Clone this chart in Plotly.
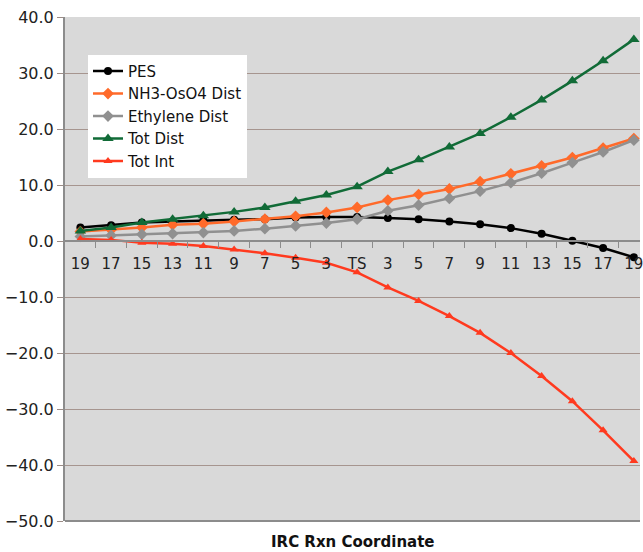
import plotly.graph_objects as go

categories = ["19", "17", "15", "13", "11", "9", "7", "5", "3", "TS",
              "3", "5", "7", "9", "11", "13", "15", "17", "19"]
pes = [2.4, 2.8, 3.3, 3.5, 3.7, 3.8, 3.9, 4.2, 4.3, 4.3,
       4.1, 3.9, 3.5, 3.0, 2.3, 1.3, 0.05, -1.25, -2.9]
nh3_oso4 = [1.7, 2.0, 2.4, 2.9, 3.1, 3.5, 3.9, 4.4, 5.1, 6.0,
            7.3, 8.3, 9.3, 10.6, 12.0, 13.4, 14.9, 16.6, 18.3]
ethylene = [0.8, 1.0, 1.2, 1.3, 1.5, 1.8, 2.2, 2.7, 3.2, 3.9,
            5.4, 6.4, 7.6, 8.9, 10.4, 12.1, 14.0, 15.9, 18.0]
tot_dist = [1.8, 2.4, 3.3, 3.9, 4.5, 5.2, 6.0, 7.1, 8.2, 9.7,
            12.4, 14.5, 16.8, 19.2, 22.1, 25.2, 28.6, 32.2, 36.0]
tot_int = [0.35, 0.2, -0.3, -0.5, -0.9, -1.5, -2.2, -3.0, -3.9, -5.6,
           -8.3, -10.7, -13.4, -16.4, -20.0, -24.1, -28.6, -33.8, -39.3]

x = list(range(len(categories)))

series = [
    ("PES", pes, "#000000", "circle", 8),
    ("NH3-OsO4 Dist", nh3_oso4, "#ff6a2a", "diamond", 9),
    ("Ethylene Dist", ethylene, "#909090", "diamond", 9),
    ("Tot Dist", tot_dist, "#116b37", "triangle-up", 10),
    ("Tot Int", tot_int, "#ff3a1f", "triangle-up", 8),
]

fig = go.Figure()
for name, vals, color, sym, size in series:
    fig.add_trace(go.Scatter(
        x=x, y=vals, name=name, mode="lines+markers",
        line=dict(color=color, width=2.5),
        marker=dict(color=color, symbol=sym, size=size),
        cliponaxis=True,
    ))

font_family = "DejaVu Sans, Verdana, sans-serif"

fig.update_layout(
    width=643, height=552,
    margin=dict(l=65, r=0, t=17, b=31),
    paper_bgcolor="white",
    plot_bgcolor="#d9d9d9",
    font=dict(family=font_family, size=14, color="#222222"),
    showlegend=True,
    legend=dict(
        x=0.04, y=0.925, xanchor="left", yanchor="top",
        bgcolor="white", borderwidth=0,
        font=dict(size=15, color="#111111"),
        itemwidth=30,
        tracegroupgap=0,
    ),
    xaxis=dict(
        range=[-0.5, 18.2],
        tickmode="array",
        tickvals=x,
        ticktext=categories,
        ticks="outside", ticklen=5, tickcolor="rgba(0,0,0,0)",
        ticklabelstandoff=4,
        ticklabeloverflow="allow",
        showgrid=False, zeroline=False,
        showline=True, linecolor="#8c8c8c", linewidth=2,
        anchor="free", position=50 / 90,
        tickfont=dict(size=15, color="#222222"),
        minor=dict(tickmode="array",
                   tickvals=[i + 0.5 for i in x],
                   ticks="outside", ticklen=6, tickcolor="#8c8c8c",
                   tickwidth=1, showgrid=False),
    ),
    yaxis=dict(
        range=[-50, 40],
        dtick=10, tick0=0,
        tickformat=".1f",
        ticks="outside", ticklen=6, tickcolor="#9c8c86",
        showgrid=True, gridcolor="#a6958f", gridwidth=1,
        zeroline=False,
        showline=True, linecolor="#8c8c8c", linewidth=2,
        tickfont=dict(size=16, color="#222222"),
    ),
    annotations=[dict(
        text="<b>IRC Rxn Coordinate</b>",
        xref="paper", yref="paper", x=0.5, y=-0.041,
        xanchor="center", yanchor="middle", showarrow=False,
        font=dict(size=15, color="#111111", family=font_family),
    )],
)

# bottom border of the plot area at -50
fig.add_shape(type="line", xref="paper", yref="paper", x0=0, x1=1, y0=0, y1=0,
              line=dict(color="#8c8c8c", width=2), layer="below")

fig.write_html(
    "out.html",
    config={"displayModeBar": False},
    post_script="document.body.style.margin='0';document.body.style.overflow='hidden';",
)
